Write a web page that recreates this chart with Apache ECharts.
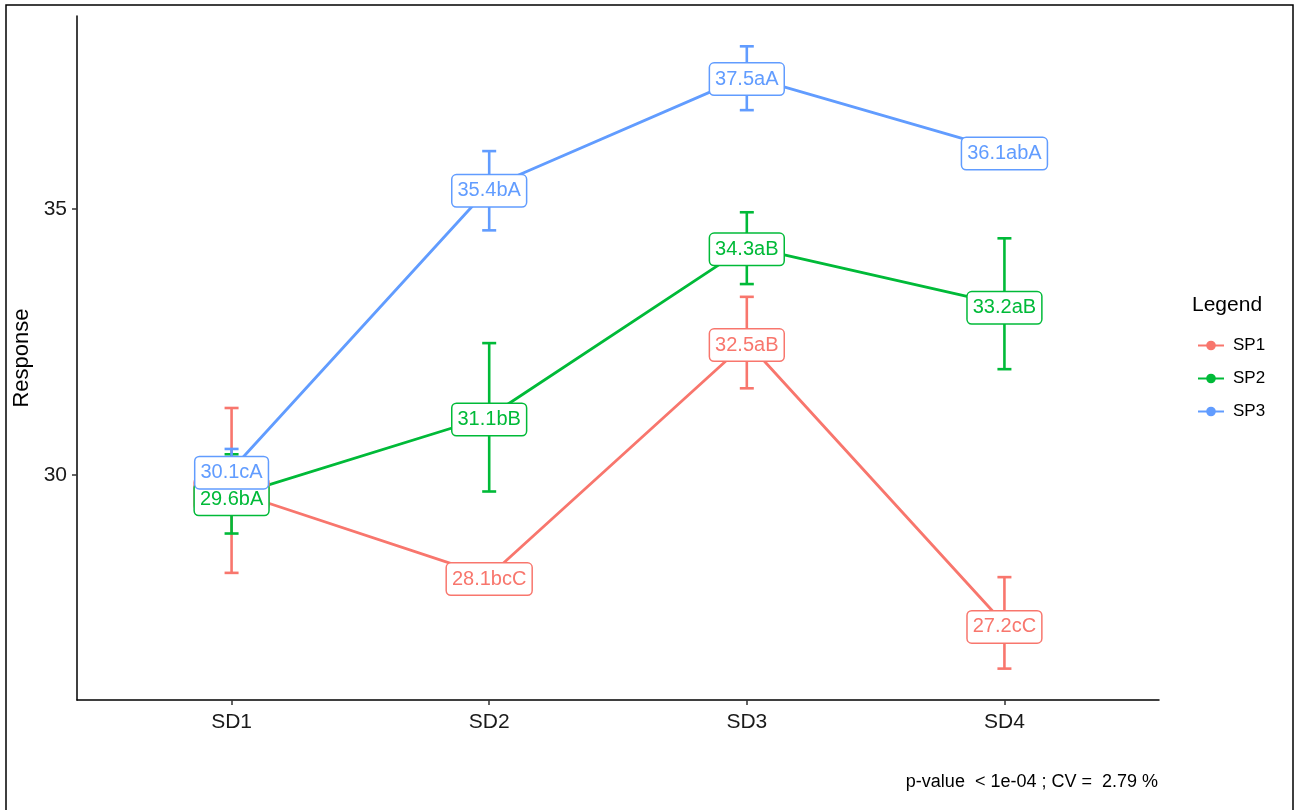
<!DOCTYPE html>
<html>
<head>
<meta charset="utf-8">
<script src="https://cdn.jsdelivr.net/npm/echarts@6/dist/echarts.min.js"></script>
<style>
  html, body { margin: 0; padding: 0; background: #fff; }
  #chart { width: 1294px; height: 810px; }
</style>
</head>
<body>
<div id="chart"></div>
<script>
// Categories along the x axis
const categories = ['SD1', 'SD2', 'SD3', 'SD4'];
const seriesNames = ['SP1', 'SP2', 'SP3'];

// Mean response per group
const sp1Values = [29.7, 28.1, 32.5, 27.2];
const sp2Values = [29.6, 31.1, 34.3, 33.2];
const sp3Values = [30.1, 35.4, 37.5, 36.1];

// Error bar bounds
const sp1Lower = [28.16, 27.85, 31.63, 26.36];
const sp1Upper = [31.26, 28.3, 33.35, 28.08];
const sp2Lower = [28.9, 29.69, 33.59, 31.99];
const sp2Upper = [30.39, 32.48, 34.94, 34.45];
const sp3Lower = [29.7, 34.6, 36.86, 35.9];
const sp3Upper = [30.49, 36.09, 38.06, 36.3];

// Group letters shown in the point labels
const sp1Labels = ['29.7bA', '28.1bcC', '32.5aB', '27.2cC'];
const sp2Labels = ['29.6bA', '31.1bB', '34.3aB', '33.2aB'];
const sp3Labels = ['30.1cA', '35.4bA', '37.5aA', '36.1abA'];

// Y axis ticks
const yTicks = [30, 35];

const footnote = 'p-value  < 1e-04 ; CV =  2.79 %';

const colors = ['#F8766D', '#00BA38', '#619CFF'];
const groups = [
  { values: sp1Values, lower: sp1Lower, upper: sp1Upper, labels: sp1Labels },
  { values: sp2Values, lower: sp2Lower, upper: sp2Upper, labels: sp2Labels },
  { values: sp3Values, lower: sp3Lower, upper: sp3Upper, labels: sp3Labels }
];
const FONT = '"Liberation Sans", Arial, Helvetica, sans-serif';
const catPos = categories.map((c, i) => i + 1);

const chart = echarts.init(document.getElementById('chart'), null, { renderer: 'canvas' });

const series = [];

// Error bars with caps
groups.forEach((g, gi) => {
  series.push({
    type: 'custom',
    name: seriesNames[gi] + '-err',
    z: 1,
    silent: true,
    data: catPos.map((x, i) => [x, g.lower[i], g.upper[i]]),
    renderItem: (params, api) => {
      const x = api.value(0);
      const lo = api.coord([x, api.value(1)]);
      const hi = api.coord([x, api.value(2)]);
      const hw = 7;
      const style = { stroke: colors[gi], lineWidth: 2.6, fill: null };
      return {
        type: 'group',
        children: [
          { type: 'line', shape: { x1: lo[0], y1: lo[1], x2: hi[0], y2: hi[1] }, style },
          { type: 'line', shape: { x1: lo[0] - hw, y1: lo[1], x2: lo[0] + hw, y2: lo[1] }, style },
          { type: 'line', shape: { x1: hi[0] - hw, y1: hi[1], x2: hi[0] + hw, y2: hi[1] }, style }
        ]
      };
    }
  });
});

// Connecting lines with points
groups.forEach((g, gi) => {
  series.push({
    type: 'line',
    name: seriesNames[gi],
    z: 2,
    data: catPos.map((x, i) => [x, g.values[i]]),
    symbol: 'circle',
    symbolSize: 8,
    showSymbol: true,
    itemStyle: { color: colors[gi] },
    lineStyle: { color: colors[gi], width: 2.8 },
    emphasis: { disabled: true },
    animation: false
  });
});

// Boxed value labels
groups.forEach((g, gi) => {
  series.push({
    type: 'scatter',
    name: seriesNames[gi] + '-label',
    z: 3 + gi,
    symbolSize: 1,
    itemStyle: { color: 'rgba(0,0,0,0)', opacity: 1 },
    data: catPos.map((x, i) => [x, g.values[i]]),
    label: {
      show: true,
      position: 'inside',
      formatter: p => g.labels[p.dataIndex],
      color: colors[gi],
      opacity: 1,
      fontFamily: FONT,
      fontSize: 20,
      lineHeight: 22,
      backgroundColor: '#ffffff',
      borderColor: colors[gi],
      borderWidth: 1.5,
      borderRadius: 4,
      padding: [5, 5, 4, 5]
    },
    labelLayout: { hideOverlap: false, dy: 3 },
    emphasis: { disabled: true },
    animation: false
  });
});

chart.setOption({
  animation: false,
  color: colors,
  grid: { left: 77, right: 135, top: 16, bottom: 110 },
  legend: {
    data: seriesNames,
    orient: 'vertical',
    left: 1192,
    top: 332,
    itemWidth: 26,
    itemHeight: 12,
    itemGap: 16,
    textStyle: { fontFamily: FONT, fontSize: 17, color: '#000', padding: [0, 0, 0, 4] }
  },
  xAxis: {
    type: 'value',
    min: 0.4,
    max: 4.6,
    axisLine: { show: true, lineStyle: { color: '#000', width: 1.5 } },
    axisTick: { show: true, customValues: catPos, length: 5, lineStyle: { color: '#333', width: 1.5 } },
    axisLabel: {
      customValues: catPos,
      formatter: v => categories[Math.round(v) - 1],
      fontFamily: FONT, fontSize: 21, color: '#1a1a1a', margin: 12
    },
    splitLine: { show: false }
  },
  yAxis: {
    type: 'value',
    min: 25.77,
    max: 38.63,
    name: 'Response',
    nameLocation: 'middle',
    nameRotate: 90,
    nameGap: 36,
    nameTextStyle: { fontFamily: FONT, fontSize: 22, color: '#000' },
    axisLine: { show: true, lineStyle: { color: '#000', width: 1.5 } },
    axisTick: { show: true, customValues: yTicks, length: 5, lineStyle: { color: '#333', width: 1.5 } },
    axisLabel: {
      customValues: yTicks,
      fontFamily: FONT, fontSize: 21, color: '#1a1a1a', margin: 10
    },
    splitLine: { show: false }
  },
  graphic: [
    {
      type: 'rect',
      silent: true,
      shape: { x: 6, y: 5, width: 1287, height: 830 },
      style: { fill: null, stroke: '#000', lineWidth: 1.5 }
    },
    {
      type: 'text',
      left: 1192,
      top: 295,
      style: { text: 'Legend', fontFamily: FONT, fontSize: 21, fill: '#000' }
    },
    {
      type: 'text',
      right: 1294 - 1158,
      top: 773,
      style: { text: footnote, fontFamily: FONT, fontSize: 18, fill: '#000' }
    }
  ],
  series
});
</script>
</body>
</html>
